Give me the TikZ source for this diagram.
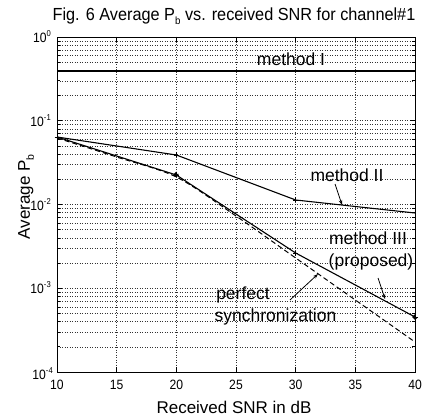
\documentclass[tikz,border=0pt]{standalone}
\usepackage{fontspec}
\setmainfont{Liberation Sans}
\newfontfamily\narrowsans[FakeStretch=0.93]{Liberation Sans}
\newfontfamily\ticksans[FakeStretch=0.9]{Liberation Sans}
\usetikzlibrary{arrows.meta}
\tikzset{
  gridline/.style={line width=0.5pt, dotted, black!80},
  axisline/.style={line width=0.8pt, black},
  curve/.style={line width=1.1pt, black, line join=round},
  dashcurve/.style={line width=1.0pt, black, dash pattern=on 5pt off 3pt},
  annot/.style={line width=0.8pt, black, -{Stealth[length=5pt,width=3.5pt]}},
  lbl/.style={font=\fontsize{17.5}{19}\selectfont, inner sep=0pt},
  ticklbl/.style={font=\ticksans\fontsize{13.5}{14}\selectfont, inner sep=0pt},
  mk/.style={line width=0.8pt, black}
}
\newcommand{\supsc}[1]{\raisebox{0.85ex}{\fontsize{8.5}{8.5}\selectfont #1}}
\newcommand{\subsc}[1]{\raisebox{-0.45ex}{\fontsize{10.5}{10.5}\selectfont #1}}
\begin{document}
\begin{tikzpicture}[x=1pt,y=-1pt]
\useasboundingbox[fill=white] (0,0) rectangle (422,419);
% grid
\foreach \xx in {116.67,176.33,236,295.67,355.33}
  \draw[gridline] (\xx,37) -- (\xx,372);
\foreach \k in {1,2,3}
  \draw[gridline] (57,{37+83.75*\k}) -- (415,{37+83.75*\k});
\foreach \k in {0,...,3}
  \foreach \m in {2,...,9}
    \draw[gridline] (57,{37+83.75*(\k+1)-83.75*log10(\m)}) -- (415,{37+83.75*(\k+1)-83.75*log10(\m)});
% ticks
\foreach \xx in {116.67,176.33,236,295.67,355.33} {
  \draw[axisline] (\xx,372) -- (\xx,367);
  \draw[axisline] (\xx,37) -- (\xx,42);
}
\foreach \k in {1,2,3} {
  \draw[axisline] (57,{37+83.75*\k}) -- (62,{37+83.75*\k});
  \draw[axisline] (415,{37+83.75*\k}) -- (410,{37+83.75*\k});
}
\foreach \k in {0,...,3}
  \foreach \m in {2,...,9} {
    \draw[line width=0.6pt] (57,{37+83.75*(\k+1)-83.75*log10(\m)}) -- (60,{37+83.75*(\k+1)-83.75*log10(\m)});
    \draw[line width=0.6pt] (415,{37+83.75*(\k+1)-83.75*log10(\m)}) -- (412,{37+83.75*(\k+1)-83.75*log10(\m)});
  }
% axes box
\draw[axisline] (57,37) rectangle (415,372);
% tick labels
\foreach \xx/\t in {57/10,116.67/15,176.33/20,236/25,295.67/30,355.33/35,415/40}
  \node[ticklbl] (xt\t) at (\xx,385) {\t};
\node[ticklbl, anchor=east] (y0) at (51,37) {10\supsc{0}};
\node[ticklbl, anchor=east] (y1) at (51,121) {10\supsc{-1}};
\node[ticklbl, anchor=east] (y2) at (51,205) {10\supsc{-2}};
\node[ticklbl, anchor=east] (y3) at (51,288) {10\supsc{-3}};
\node[ticklbl, anchor=east] (y4) at (53,374) {10\supsc{-4}};
% curves
\draw[curve] (57,71) -- (415,71);
\draw[curve] (57,137) -- (176.33,155) -- (295.67,200) -- (415,213);
\draw[curve] (57,137) -- (176.33,175) -- (295.67,253) -- (415,317);
\draw[dashcurve] plot[smooth, tension=0.5] coordinates {(57,138) (116.67,157) (176.33,177) (236,216) (295.67,258) (355.33,300) (415,342)};
% markers
\foreach \p in {(57,137),(176.33,155),(295.67,200),(176.33,175),(295.67,253),(415,317)}
  \draw[mk] \p ++(-2.5,0) -- ++(5,0) \p ++(0,-2.5) -- ++(0,5);
\fill (415,317) -- ++(3,0) -- ++(-3,3) -- ++(-3,-3) -- ++(3,-3) -- cycle;
\fill (176.33,174) -- ++(2.5,0) -- ++(-2.5,2.5) -- ++(-2.5,-2.5) -- ++(2.5,-2.5) -- cycle;
% labels
\node[lbl] (m1) at (291,59) {method I};
\node[lbl] (m2) at (347,175) {method II};
\node[lbl] (m3) at (368,238) {method III};
\node[lbl] (m3b) at (371,262) {(proposed)};
\node[lbl] (ps1) at (243,295) {perfect};
\node[lbl] (ps2) at (275.5,317) {synchronization};
% annotation arrows
\coordinate (a2s) at (335,184);
\coordinate (a2e) at (342,205);
\coordinate (a3s) at (378,278);
\coordinate (a3e) at (385,299);
\coordinate (a4s) at (290,300);
\coordinate (a4e) at (318,274);
\draw[annot] (a2s) -- (a2e);
\draw[annot] (a3s) -- (a3e);
\draw[annot] (a4s) -- (a4e);
% titles
\node[inner sep=0pt, font=\narrowsans\fontsize{17.5}{19}\selectfont] (title) at (234,16) {Fig. 6 Average P\subsc{b} vs. received SNR for channel\#1};
\node[lbl, font=\fontsize{17}{19}\selectfont] (xlab) at (234,407) {Received SNR in dB};
\node[lbl, font=\fontsize{17}{19}\selectfont, rotate=90] (ylab) at (26,197) {Average P\subsc{b}};
\end{tikzpicture}
\end{document}
